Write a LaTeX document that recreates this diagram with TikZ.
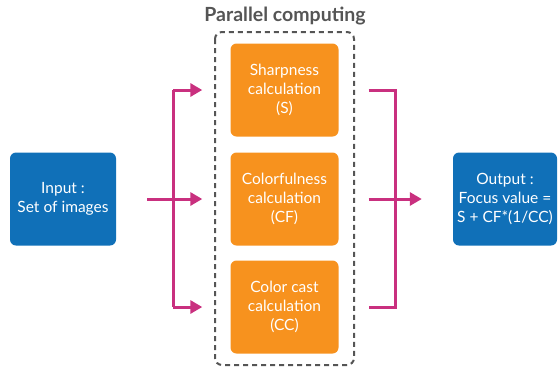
\documentclass[tikz,border=0pt]{standalone}
\usepackage{fontspec}
\setmainfont{Lato}
\usetikzlibrary{arrows.meta}

\definecolor{boxblue}{RGB}{16,112,184}
\definecolor{boxorange}{RGB}{247,146,30}
\definecolor{flowpink}{RGB}{201,48,127}
\definecolor{framegray}{RGB}{85,85,85}

\tikzset{
  iobox/.style={fill=boxblue, rounded corners=6pt, text=white, align=center,
    minimum width=106pt, minimum height=93pt, font=\fontsize{15.5}{19}\selectfont},
  calcbox/.style={fill=boxorange, rounded corners=6pt, text=white, align=center,
    minimum width=108pt, minimum height=93pt, font=\fontsize{15.5}{19}\selectfont},
  flowline/.style={draw=flowpink, line width=3pt},
  flowarrow/.style={flowline, -{Triangle[length=12pt,width=13pt]}},
}

\begin{document}
\begin{tikzpicture}[x=1pt,y=-1pt]
\useasboundingbox (0,0) rectangle (559,368);
% boxes
\node[iobox] (input) at (63,199) {Input :\\Set of images};
\node[calcbox] (sharp) at (284.5,90) {Sharpness\\calculation\\(S)};
\node[calcbox] (colour) at (284.5,199) {Colorfulness\\calculation\\(CF)};
\node[calcbox] (cast) at (284.5,307) {Color cast\\calculation\\(CC)};
\node[iobox, minimum width=104pt] (output) at (505,199) {Output :\\Focus value =\\S + CF*(1/CC)};
% parallel frame
\draw[framegray, line width=2pt, dash pattern=on 5pt off 4pt, rounded corners=7pt]
  (215,32) rectangle (354,365);
\node[font=\fontsize{19.5}{22}\selectfont\bfseries, text=framegray] (title) at (285,16) {Parallel computing};
% split
\coordinate (lstart) at (147,199);
\coordinate (lsplit) at (173,199);
\coordinate (rjoin) at (395,199);
\draw[flowline] (lsplit |- sharp.west) -- (lsplit |- cast.west);
\draw[flowarrow] (lsplit |- sharp.west) -- ([xshift=-28pt]sharp.west);
\draw[flowarrow] (lstart) -- ([xshift=-28pt]colour.west);
\draw[flowarrow] (lsplit |- cast.west) -- ([xshift=-28pt]cast.west);
% join
\draw[flowline] ([xshift=30pt]sharp.east) -| (rjoin |- cast.east) -- ([xshift=30pt]cast.east);
\draw[flowarrow] ([xshift=30pt]colour.east) -- ([xshift=-31pt]output.west);
\end{tikzpicture}
\end{document}
